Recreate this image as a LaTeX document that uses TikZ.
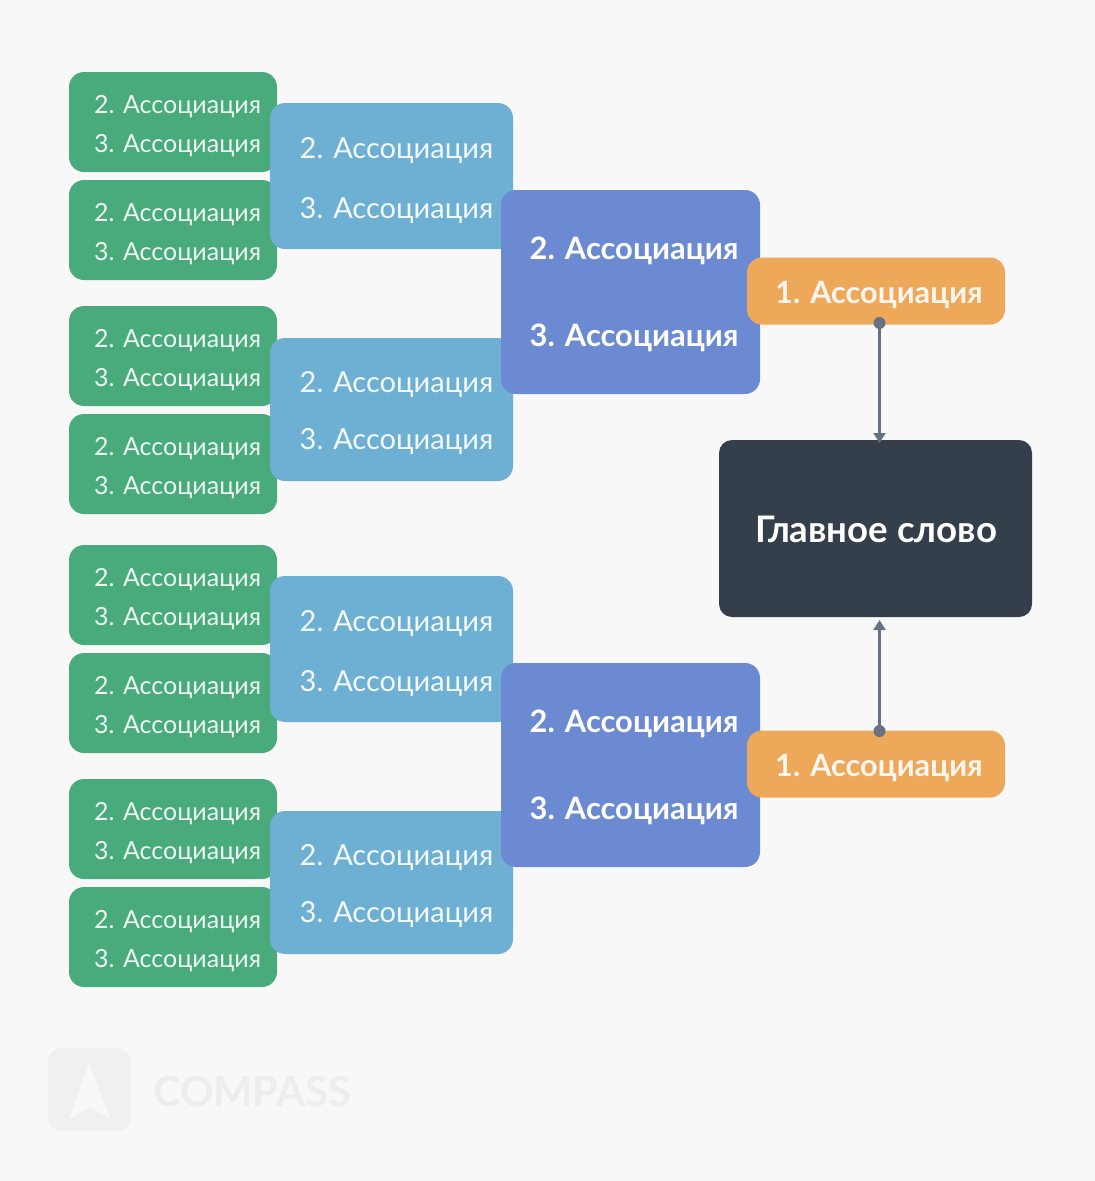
\documentclass[tikz,border=0pt]{standalone}
\usepackage{fontspec}
\setmainfont{Lato}
\usetikzlibrary{arrows.meta}
\definecolor{bgc}{HTML}{F8F8F9}
\definecolor{greenc}{HTML}{49AB7C}
\definecolor{bluec}{HTML}{6EB0D3}
\definecolor{purplec}{HTML}{6C8AD1}
\definecolor{orangec}{HTML}{EDA85A}
\definecolor{darkc}{HTML}{353F4C}
\definecolor{linec}{HTML}{667283}
\definecolor{logoc}{HTML}{F0F0F1}
\definecolor{logot}{HTML}{ECEDEE}
\tikzset{
  x=1pt,y=-1pt,
  boxbase/.style={rectangle,rounded corners=15pt,inner sep=0pt,draw=none},
  greenbox/.style={boxbase,fill=greenc},
  bluebox/.style={boxbase,fill=bluec},
  purplebox/.style={boxbase,fill=purplec},
  orangebox/.style={boxbase,fill=orangec},
  darkbox/.style={boxbase,rounded corners=13pt,fill=darkc},
  txtbase/.style={anchor=base west,inner sep=0pt,text=white},
  gtxt/.style={txtbase,font=\fontsize{25}{25}\selectfont,text=white!90!greenc},
  btxt/.style={txtbase,font=\fontsize{29}{29}\selectfont,text=white!92!bluec},
  ptxt/.style={txtbase,font=\fontsize{30.9}{31}\selectfont\bfseries},
  otxt/.style={txtbase,font=\fontsize{30.7}{31}\selectfont\bfseries,text=white!90!orangec},
  mtxt/.style={txtbase,font=\fontsize{36.6}{37}\selectfont\bfseries},
  link/.style={draw=linec,line width=2.2pt,-{Triangle[length=10pt,width=12pt]}},
  linkdot/.style={circle,fill=linec,inner sep=0pt,minimum size=12pt},
}
\newcommand{\bx}[6]{\node[#2,minimum width={(#5-#3)*1pt},minimum height={(#6-#4)*1pt}] (#1) at ({(#3+#5)/2},{(#4+#6)/2}) {};}
\newcommand{\gbox}[5]{\bx{#1}{greenbox}{69}{#2}{277}{#3}
  \node[gtxt] (#1a) at (94,#4) {2. Ассоциация};
  \node[gtxt] (#1b) at (94,#5) {3. Ассоциация};}
\newcommand{\bbox}[5]{\bx{#1}{bluebox}{270}{#2}{513}{#3}
  \node[btxt] (#1a) at (299.5,#4) {2. Ассоциация};
  \node[btxt] (#1b) at (299.5,#5) {3. Ассоциация};}
\newcommand{\pbox}[5]{\bx{#1}{purplebox}{501}{#2}{760}{#3}
  \node[ptxt] (#1a) at (529.5,#4) {2. Ассоциация};
  \node[ptxt] (#1b) at (529.5,#5) {3. Ассоциация};}
\newcommand{\obox}[4]{\bx{#1}{orangebox}{747}{#2}{1005}{#3}
  \node[otxt] (#1a) at (775,#4) {1. Ассоциация};}
\begin{document}
\begin{tikzpicture}
\path[use as bounding box,fill=bgc] (0,0) rectangle (1095,1181);
% logo
\bx{logo}{boxbase,rounded corners=14pt,fill=logoc}{48}{1048}{131}{1131}
\path[fill=bgc,rounded corners=2pt] (89,1063) -- (110,1119) -- (89,1107) -- (69,1119) -- cycle;
\node[anchor=base west,inner sep=0pt,text=logot,font=\fontsize{41.5}{42}\selectfont\bfseries] (logotext) at (153,1106) {COMPASS};
% green
\gbox{g1}{72}{172}{113}{152}
\gbox{g2}{180}{280}{221}{260}
\gbox{g3}{306}{406}{347}{386}
\gbox{g4}{414}{514}{455}{494}
\gbox{g5}{545}{645}{586}{625}
\gbox{g6}{653}{753}{694}{733}
\gbox{g7}{779}{879}{820}{859}
\gbox{g8}{887}{987}{928}{967}
% blue
\bbox{b1}{103}{249}{158}{218}
\bbox{b2}{338}{481}{392}{449}
\bbox{b3}{576}{722}{631}{691}
\bbox{b4}{811}{954}{865}{922}
% purple
\pbox{p1}{190}{394}{259}{346}
\pbox{p2}{663}{867}{732}{819}
% orange
\obox{o1}{257.5}{324.5}{303}
\obox{o2}{730.5}{797.5}{776}
% main
\bx{main}{darkbox}{719}{440}{1032}{617}
\node[mtxt] (maintext) at (755,542) {Главное слово};
% connectors
\coordinate (d1) at (879.5,323);
\coordinate (t1) at (879.5,443);
\coordinate (d2) at (879.5,731);
\coordinate (t2) at (879.5,620);
\draw[link] (d1) -- (t1);
\draw[link] (d2) -- (t2);
\node[linkdot] (dot1) at (d1) {};
\node[linkdot] (dot2) at (d2) {};
\end{tikzpicture}
\end{document}
